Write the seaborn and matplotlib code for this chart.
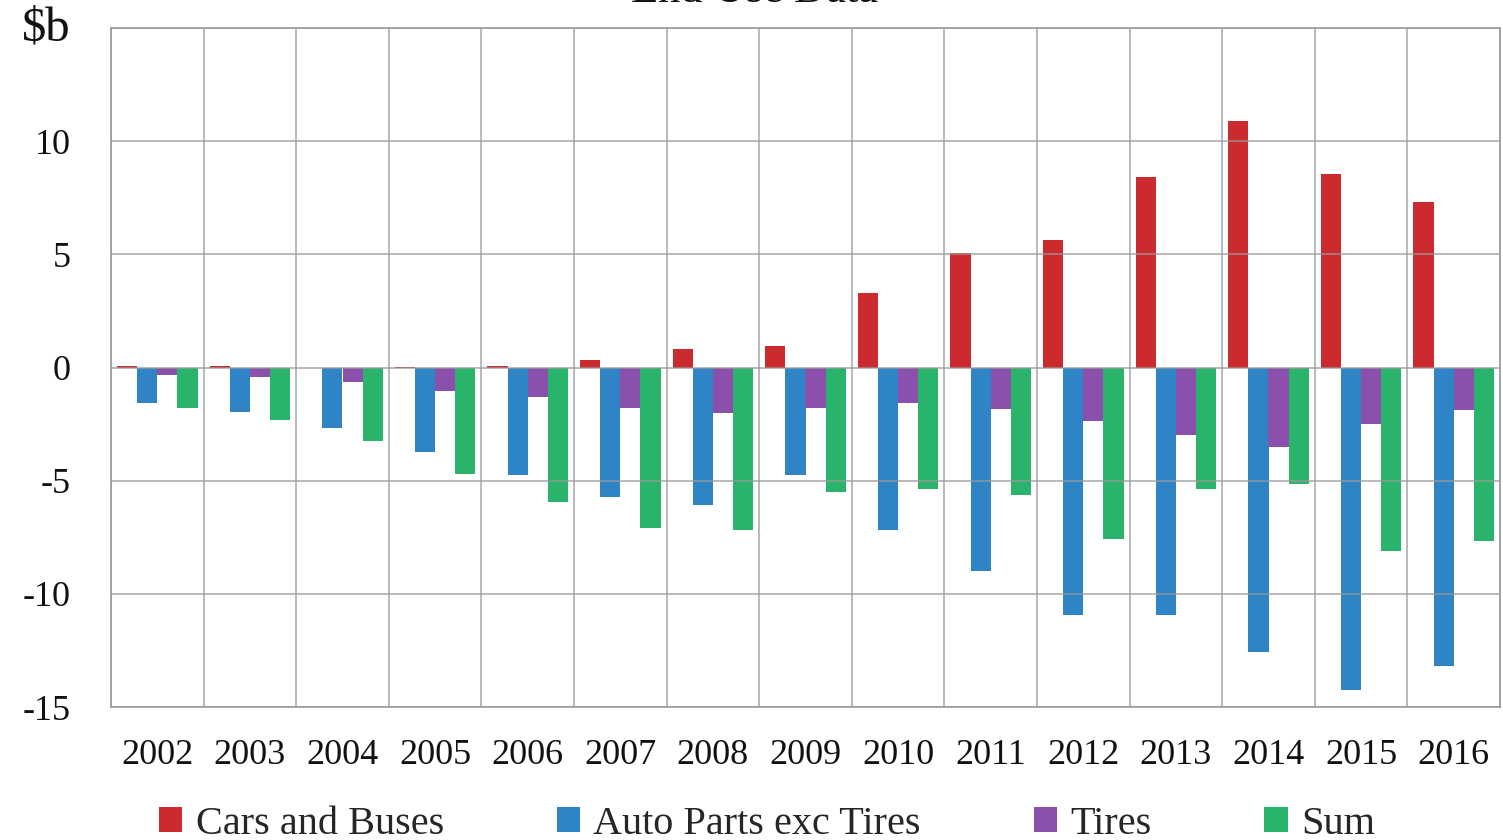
import matplotlib
matplotlib.use("Agg")
import matplotlib.pyplot as plt
import seaborn as sns
import pandas as pd
import numpy as np

years = ["2002", "2003", "2004", "2005", "2006", "2007", "2008", "2009",
         "2010", "2011", "2012", "2013", "2014", "2015", "2016"]
cars_buses = [0.05, 0.08, 0.0, 0.03, 0.07, 0.35, 0.83, 0.94,
              3.31, 5.08, 5.64, 8.42, 10.87, 8.54, 7.32]
auto_parts = [-1.56, -1.96, -2.68, -3.75, -4.77, -5.74, -6.08, -4.77,
              -7.20, -8.97, -10.93, -10.93, -12.58, -14.25, -13.18]
tires = [-0.32, -0.41, -0.65, -1.03, -1.32, -1.78, -2.02, -1.78,
         -1.56, -1.84, -2.36, -2.98, -3.50, -2.48, -1.89]
total = [-1.81, -2.30, -3.25, -4.70, -5.95, -7.08, -7.16, -5.52,
         -5.37, -5.62, -7.58, -5.37, -5.13, -8.10, -7.67]

series_names = ["Cars and Buses", "Auto Parts exc Tires", "Tires", "Sum"]
series_values = [cars_buses, auto_parts, tires, total]
colors = ["#CB2B2F", "#2F84C5", "#8A50AB", "#2AB36A"]

y_ticks = [-15, -10, -5, 0, 5, 10, 15]
y_tick_labels = ["-15", "-10", "-5", "0", "5", "10", ""]

df = pd.DataFrame({
    "year": np.tile(years, len(series_names)),
    "series": np.repeat(series_names, len(years)),
    "value": np.concatenate(series_values),
})

sns.set_theme(style="white")
plt.rcParams["font.family"] = ["Liberation Serif", "DejaVu Serif"]

fig = plt.figure(figsize=(15.03, 8.4), dpi=100)
ax = fig.add_axes([111 / 1503, 1 - 707 / 840, (1500 - 111) / 1503, (707 - 28) / 840])

sns.barplot(data=df, x="year", y="value", hue="series", order=years,
            hue_order=series_names, palette=colors, width=0.87, gap=0,
            saturation=1, linewidth=0, ax=ax, zorder=2)

handles, labels = ax.get_legend_handles_labels()
ax.get_legend().remove()

ax.set_ylim(-15, 15)
ax.set_xlim(-0.5, len(years) - 0.5)
ax.set_yticks(y_ticks)
ax.set_yticklabels(y_tick_labels)
ax.set_xlabel("")
ax.set_ylabel("")

# light grid drawn over the bars, one cell per year
grid_color = "#9a9a9a"
for y in y_ticks:
    ax.axhline(y, color=grid_color, lw=1.2, alpha=0.8, zorder=3)
for i in range(len(years) + 1):
    ax.axvline(i - 0.5, color=grid_color, lw=1.2, alpha=0.8, zorder=3)
for s in ax.spines.values():
    s.set_color(grid_color)
    s.set_linewidth(1.2)

ax.tick_params(axis="both", length=0, labelsize=26, colors="#111111")
ax.tick_params(axis="y", pad=29)
ax.tick_params(axis="x", pad=23)

fig.text(22 / 1503, 1 - 28 / 840, "$b", fontsize=35, ha="left", va="center",
         color="#111111")
fig.text(755 / 1503, 1 - 1.5 / 840, "End Use Data", fontsize=32, ha="center",
         va="baseline", color="#111111")

fig.legend(handles, labels, loc="center", bbox_to_anchor=(767 / 1503, 1 - 824 / 840),
           ncol=4, frameon=False, fontsize=29, handlelength=0.58, handleheight=0.58,
           handletextpad=0.33, columnspacing=2.8, borderpad=0)

fig.savefig("out.png", dpi=100)
